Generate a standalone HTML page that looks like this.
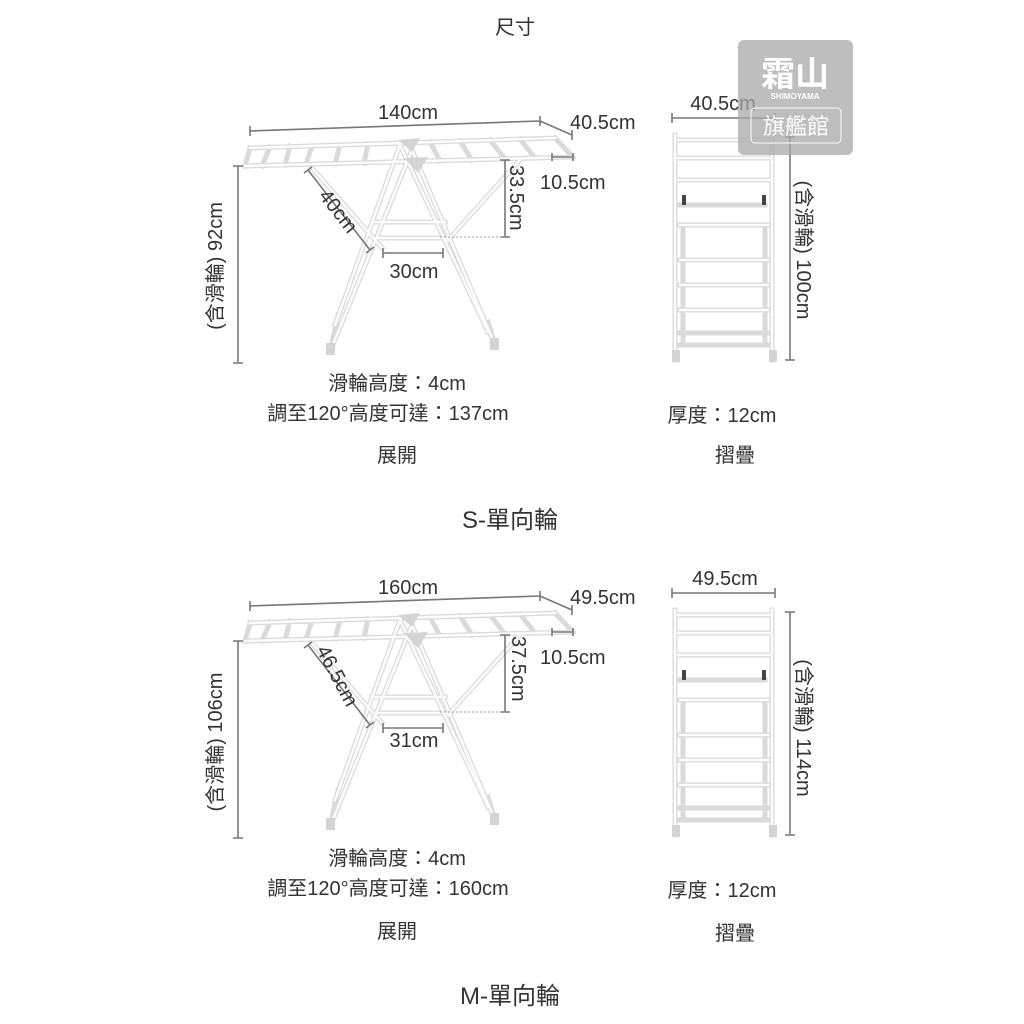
<!DOCTYPE html>
<html><head><meta charset="utf-8"><style>
html,body{margin:0;padding:0;background:#fff;}
svg{display:block}
text{font-family:"Liberation Sans","Noto Sans CJK TC",sans-serif;fill:#333;}
.d{stroke:#777;stroke-width:1.6;fill:none}
.dot{stroke:#999;stroke-width:1;stroke-dasharray:2 2;fill:none}
.r1{stroke:#dadada;stroke-width:5;fill:none;stroke-linecap:square}
.r2{stroke:#fcfcfc;stroke-width:2.5;fill:none;stroke-linecap:square}
</style></head><body>
<svg width="1024" height="1024" viewBox="0 0 1024 1024" xmlns="http://www.w3.org/2000/svg">
<defs>
<g id="rack">
  <g class="r1">
    <path d="M250 148 L555 138 M245 166 L573 157 M250 148 L245 166 M555 138 L573 157
      M270 147 L262 166 M290 146 L285 165 M312 146 L306 164 M340 145 L335 164 M368 144 L364 163 M430 142 L440 161 M460 141 L472 160 M490 140 L505 159 M520 139 L535 158
      M412 150 L330 352 M412 150 L495 345 M400 145 L335 325 M400 145 L488 332
      M312 168 L382 248 M520 160 L448 240 M372 222 L445 222 M378 238 L450 238
      M338 315 L330 352 M488 322 L495 345"/>
  </g>
  <g class="r2">
    <path d="M250 148 L555 138 M245 166 L573 157
      M412 150 L330 352 M412 150 L495 345 M400 145 L335 325 M400 145 L488 332
      M312 168 L382 248 M520 160 L448 240 M372 222 L445 222 M378 238 L450 238"/>
  </g>
  <path d="M398 140 L420 138 L412 152 Z" fill="#d4d4d4"/>
  <path d="M404 158 L428 157 L418 173 Z" fill="#d4d4d4"/>
  <rect x="326" y="343" width="9" height="12" fill="#d4d4d4"/>
  <rect x="490" y="338" width="9" height="12" fill="#d4d4d4"/>
  <path class="d" d="M250 131 L540 121 M250 126 L250 136 M540 116 L540 126 M540 121 L572 135 M572 130 L572 140
    M238 166 L238 363 M233 166 L243 166 M233 363 L243 363
    M505 160 L505 237 M500 160 L510 160 M500 237 L510 237
    M552 157 L573 157 M552 153 L552 161 M573 153 L573 161
    M383 253 L443 253 M383 248 L383 258 M443 248 L443 258
    M308 170 L370 250 M304 173 L312 167 M366 253 L374 247"/>
  <path class="dot" d="M440 237 L505 237"/>
</g>
<g id="fold">
  <g class="r1">
    <path d="M675 135 L675 360 M772 135 L772 360 M678 140 L770 140 M678 158 L770 158 M678 180 L770 180 M680 205 L765 205 M680 225 L768 225 M680 260 L768 260 M680 285 L768 285 M680 310 L768 310 M680 333 L768 333 M680 345 L768 345 M683 225 L683 345 M765 225 L765 345"/>
  </g>
  <g class="r2">
    <path d="M675 135 L675 360 M772 135 L772 360 M678 140 L770 140 M678 158 L770 158 M678 180 L770 180 M680 225 L768 225 M680 260 L768 260 M680 285 L768 285 M680 310 L768 310"/>
  </g>
  <rect x="682" y="195" width="4" height="10" fill="#444"/>
  <rect x="762" y="195" width="4" height="10" fill="#444"/>
  <rect x="672" y="350" width="8" height="12" fill="#d4d4d4"/>
  <rect x="769" y="350" width="8" height="12" fill="#d4d4d4"/>
  <path class="d" d="M672 118 L775 118 M672 113 L672 123 M775 113 L775 123 M790 137 L790 360 M785 137 L795 137 M785 360 L795 360"/>
</g>
</defs>

<text x="515" y="34" font-size="20" text-anchor="middle">尺寸</text>

<use href="#rack"/>
<use href="#fold"/>
<use href="#rack" transform="translate(0,475)"/>
<use href="#fold" transform="translate(0,475)"/>

<text x="408" y="119" font-size="20" text-anchor="middle">140cm</text>
<text x="570" y="129" font-size="20">40.5cm</text>
<text x="540" y="189" font-size="20">10.5cm</text>
<text x="414" y="278" font-size="20" text-anchor="middle">30cm</text>
<text font-size="20" transform="translate(510,165) rotate(90)">33.5cm</text>
<text font-size="20" transform="translate(318,196) rotate(52)">40cm</text>
<text font-size="20" text-anchor="middle" transform="translate(222,266) rotate(-90)">(含滑輪) 92cm</text>
<text x="723" y="110" font-size="20" text-anchor="middle">40.5cm</text>
<text font-size="20" text-anchor="middle" transform="translate(797,250) rotate(90)">(含滑輪) 100cm</text>
<text x="397" y="390" font-size="20" text-anchor="middle">滑輪高度：4cm</text>
<text x="388" y="420" font-size="20" text-anchor="middle">調至120°高度可達：137cm</text>
<text x="397" y="462" font-size="20" text-anchor="middle">展開</text>
<text x="722" y="422" font-size="20" text-anchor="middle">厚度：12cm</text>
<text x="735" y="462" font-size="20" text-anchor="middle">摺疊</text>
<text x="510" y="528" font-size="24" text-anchor="middle">S-單向輪</text>

<text x="408" y="594" font-size="20" text-anchor="middle">160cm</text>
<text x="570" y="604" font-size="20">49.5cm</text>
<text x="540" y="664" font-size="20">10.5cm</text>
<text x="414" y="747" font-size="20" text-anchor="middle">31cm</text>
<text font-size="20" transform="translate(512,636) rotate(90)">37.5cm</text>
<text font-size="20" transform="translate(316,650) rotate(62)">46.5cm</text>
<text font-size="20" text-anchor="middle" transform="translate(222,742) rotate(-90)">(含滑輪) 106cm</text>
<text x="725" y="585" font-size="20" text-anchor="middle">49.5cm</text>
<text font-size="20" text-anchor="middle" transform="translate(797,728) rotate(90)">(含滑輪) 114cm</text>
<text x="397" y="865" font-size="20" text-anchor="middle">滑輪高度：4cm</text>
<text x="388" y="895" font-size="20" text-anchor="middle">調至120°高度可達：160cm</text>
<text x="397" y="938" font-size="20" text-anchor="middle">展開</text>
<text x="722" y="897" font-size="20" text-anchor="middle">厚度：12cm</text>
<text x="735" y="940" font-size="20" text-anchor="middle">摺疊</text>
<text x="510" y="1004" font-size="24" text-anchor="middle">M-單向輪</text>

<rect x="738" y="40" width="115" height="115" rx="6" fill="#a8a8a8" opacity="0.75"/>
<text x="795" y="86" font-size="34" font-weight="bold" text-anchor="middle" style="fill:#fff">霜山</text>
<text x="795" y="99" font-size="8" font-weight="bold" text-anchor="middle" style="fill:#fff">SHIMOYAMA</text>
<rect x="751" y="108" width="90" height="35" rx="4" fill="none" stroke="#fff" stroke-width="1"/>
<text x="796" y="134" font-size="22" text-anchor="middle" style="fill:#fff">旗艦館</text>
</svg>
</body></html>
